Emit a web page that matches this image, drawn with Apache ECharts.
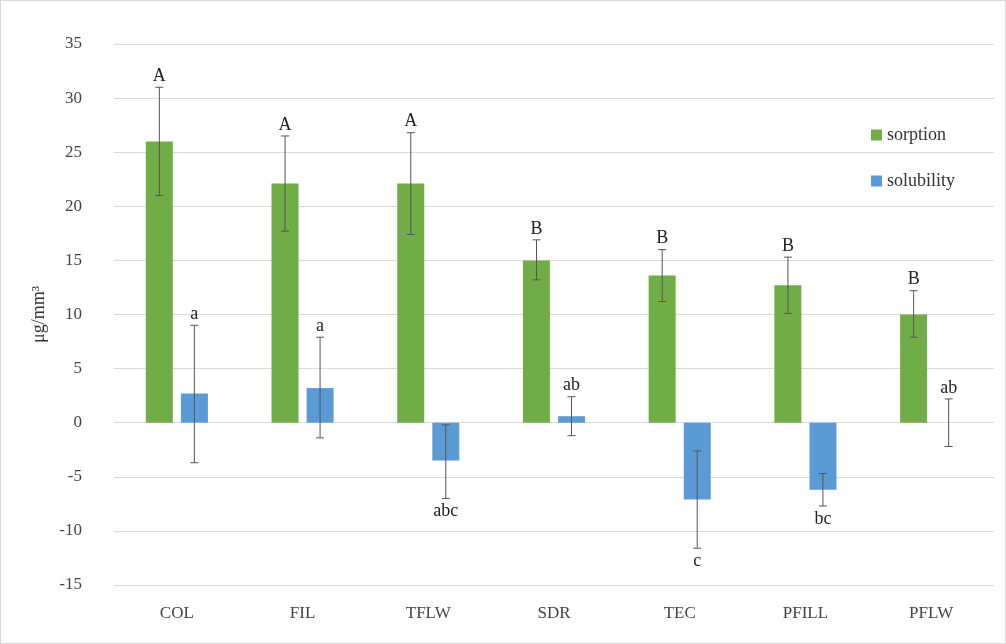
<!DOCTYPE html>
<html lang="en">
<head>
    <meta charset="UTF-8">
    <title>Sorption and solubility</title>
    <script src="https://cdn.jsdelivr.net/npm/echarts@6/dist/echarts.min.js"></script>
    <style>
        html, body { margin: 0; padding: 0; background: #fff; }
        #chart { width: 1006px; height: 644px; box-sizing: border-box; border: 1px solid #d9d9d9; }
    </style>
</head>
<body>
    <div id="chart"></div>
    <script>
        const categories = ['COL', 'FIL', 'TFLW', 'SDR', 'TEC', 'PFILL', 'PFLW'];
        const sorption = [26, 22.1, 22.1, 15, 13.6, 12.7, 10];
        const sorptionHigh = [31, 26.5, 26.8, 16.9, 16, 15.3, 12.2];
        const sorptionLow = [21, 17.7, 17.4, 13.2, 11.2, 10.1, 7.9];
        const sorptionLetters = ['A', 'A', 'A', 'B', 'B', 'B', 'B'];
        const solubility = [2.7, 3.2, -3.5, 0.6, -7.1, -6.2, 0];
        const solubilityHigh = [9, 7.9, -0.2, 2.4, -2.6, -4.7, 2.2];
        const solubilityLow = [-3.7, -1.4, -7, -1.2, -11.6, -7.7, -2.2];
        const solubilityLetters = ['a', 'a', 'abc', 'ab', 'c', 'bc', 'ab'];
        // letter goes under the bar when true
        const solubilityBelow = [false, false, true, false, true, true, false];

        const font = 'Liberation Serif';
        const chart = echarts.init(document.getElementById('chart'));

        function errorSeries(high, low, letters, below, offset) {
            return {
                type: 'custom',
                z: 10,
                data: categories.map((c, i) => [i, high[i], low[i]]),
                renderItem: function (params, api) {
                    const i = api.value(0);
                    const top = api.coord([i, api.value(1)]);
                    const bot = api.coord([i, api.value(2)]);
                    const x = top[0] + offset;
                    const w = 4;
                    const style = { stroke: '#555', lineWidth: 1 };
                    const under = below ? below[i] : false;
                    return {
                        type: 'group',
                        children: [
                            { type: 'line', shape: { x1: x, y1: top[1], x2: x, y2: bot[1] }, style: style },
                            { type: 'line', shape: { x1: x - w, y1: top[1], x2: x + w, y2: top[1] }, style: style },
                            { type: 'line', shape: { x1: x - w, y1: bot[1], x2: x + w, y2: bot[1] }, style: style },
                            {
                                type: 'text',
                                style: {
                                    text: letters[i],
                                    x: x,
                                    y: under ? bot[1] + 4 : top[1] - 2,
                                    align: 'center',
                                    verticalAlign: under ? 'top' : 'bottom',
                                    fontFamily: font,
                                    fontSize: 18,
                                    fill: '#222'
                                }
                            }
                        ]
                    };
                }
            };
        }

        const option = {
            backgroundColor: '#fff',
            textStyle: { fontFamily: font },
            grid: { left: 113, right: 11, top: 43, bottom: 58 },
            legend: {
                orient: 'vertical',
                right: 45,
                top: 120,
                itemGap: 28,
                itemWidth: 11,
                itemHeight: 11,
                icon: 'rect',
                textStyle: { fontFamily: font, fontSize: 18, color: '#333' },
                data: ['sorption', 'solubility']
            },
            xAxis: {
                type: 'category',
                data: categories,
                axisLine: { show: false },
                axisTick: { show: false },
                axisLabel: { fontFamily: font, fontSize: 17, color: '#444', margin: 20 }
            },
            yAxis: {
                type: 'value',
                min: -15,
                max: 35,
                interval: 5,
                name: 'μg/mm³',
                nameLocation: 'middle',
                nameGap: 46,
                nameTextStyle: { fontFamily: font, fontSize: 18, color: '#333' },
                axisLabel: { fontFamily: font, fontSize: 17, color: '#444', margin: 32 },
                splitLine: { lineStyle: { color: '#d9d9d9' } }
            },
            series: [
                {
                    name: 'sorption',
                    type: 'bar',
                    data: sorption,
                    barWidth: 27,
                    barGap: '30%',
                    itemStyle: { color: '#70ad47' }
                },
                {
                    name: 'solubility',
                    type: 'bar',
                    data: solubility,
                    barWidth: 27,
                    barGap: '30%',
                    itemStyle: { color: '#5b9bd5' }
                },
                errorSeries(sorptionHigh, sorptionLow, sorptionLetters, null, -17.5),
                errorSeries(solubilityHigh, solubilityLow, solubilityLetters, solubilityBelow, 17.5)
            ]
        };
        chart.setOption(option);
    </script>
</body>
</html>
